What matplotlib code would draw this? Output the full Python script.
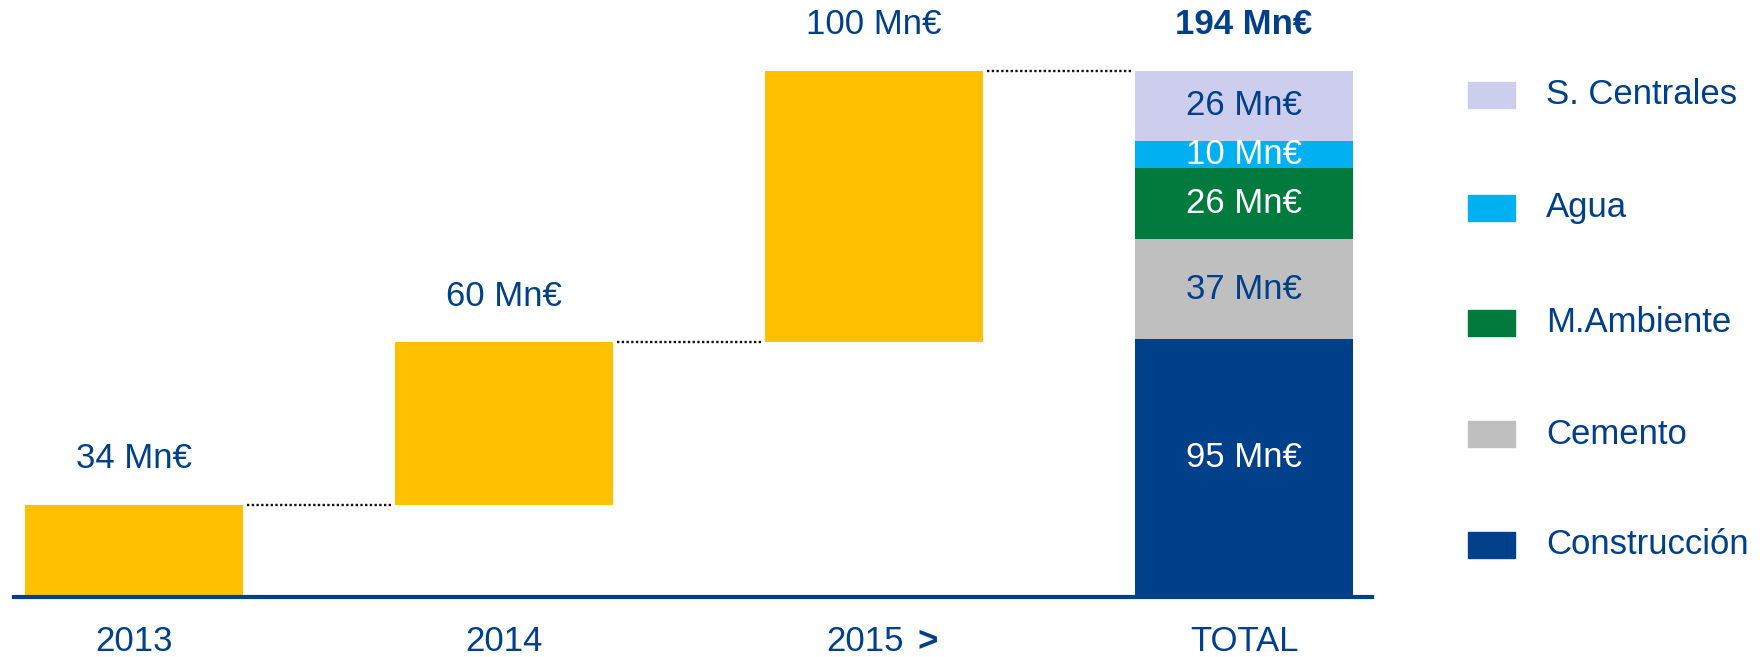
import matplotlib.pyplot as plt
from matplotlib.patches import Rectangle
from matplotlib.transforms import blended_transform_factory

plt.rcParams['font.family'] = ['Liberation Sans', 'DejaVu Sans']

# data
years = ['2013', '2014', '2015', 'TOTAL']
increments = [34, 60, 100]
segments = ['Construcción', 'Cemento', 'M.Ambiente', 'Agua', 'S. Centrales']
seg_values = [95, 37, 26, 10, 26]
seg_colors = ['#00408A', '#BFBFBF', '#007A3D', '#00B0F0', '#CDCDEE']
seg_text_colors = ['white', '#00408A', 'white', 'white', '#00408A']

blue = '#00408A'
yellow = '#FFC000'
fs = 25
w = 0.588

fig = plt.figure(figsize=(17.6, 6.57), dpi=100)
ax = fig.add_axes([0.0077, 0.0913, 0.7719, 0.9087])

# waterfall bars
bottom = 0
for i, v in enumerate(increments):
    ax.bar(i, v, w, bottom=bottom, color=yellow, zorder=2)
    ax.annotate('%d Mn€' % v, (i, bottom + v), xytext=(0, 33),
                textcoords='offset points', ha='center', va='center',
                fontsize=fs, color=blue)
    top = bottom + v
    # dotted connector to next bar
    ax.plot([i + w / 2 + 0.01, i + 1 - w / 2 - 0.01], [top, top],
            color='#111111', lw=1.7, ls=(0, (1, 1)), zorder=1)
    bottom = top

# stacked total bar
total = sum(seg_values)
base = 0
for k, (v, c, tc) in enumerate(zip(seg_values, seg_colors, seg_text_colors)):
    ax.bar(3, v, w, bottom=base, color=c, zorder=2)
    dy = 8 if k == 0 else 0  # big segment label sits a bit above centre
    ax.annotate('%d Mn€' % v, (3, base + v / 2), xytext=(0, dy),
                textcoords='offset points', ha='center', va='center',
                fontsize=fs, color=tc, zorder=3)
    base += v
ax.annotate('%d Mn€' % total, (3, total), xytext=(0, 33),
            textcoords='offset points', ha='center', va='center',
            fontsize=fs, color=blue, fontweight='bold')

ax.set_xlim(-0.326, 3.346)
ax.set_ylim(0, 220)
for s in ['top', 'right', 'left']:
    ax.spines[s].set_visible(False)
ax.spines['bottom'].set_color(blue)
ax.spines['bottom'].set_linewidth(3)
ax.spines['bottom'].set_zorder(4)
ax.set_xticks([])
ax.set_yticks([])

# category labels under the axis
tr = blended_transform_factory(ax.transData, fig.transFigure)
ly = 0.024
ax.text(0, ly, years[0], transform=tr, ha='center', va='center', fontsize=fs, color=blue)
ax.text(1, ly, years[1], transform=tr, ha='center', va='center', fontsize=fs, color=blue)
ax.text(2.079, ly, years[2], transform=tr, ha='right', va='center', fontsize=fs, color=blue)
ax.text(2.118, ly, '>', transform=tr, ha='left', va='center', fontsize=fs, color=blue,
        fontweight='bold')
ax.text(3, ly, years[3], transform=tr, ha='center', va='center', fontsize=fs, color=blue)

# legend, top to bottom
W, H = 1760.0, 657.0
leg_y = [95, 208, 323, 434, 545]
for name, c, y in zip(segments[::-1], seg_colors[::-1], leg_y):
    fig.add_artist(Rectangle((1468 / W, 1 - (y + 13) / H), 47 / W, 26 / H,
                             transform=fig.transFigure, color=c))
    fig.text(1546 / W, 1 - y / H, name, ha='left', va='center',
             fontsize=fs, color=blue)

plt.savefig('out.png', dpi=100)
